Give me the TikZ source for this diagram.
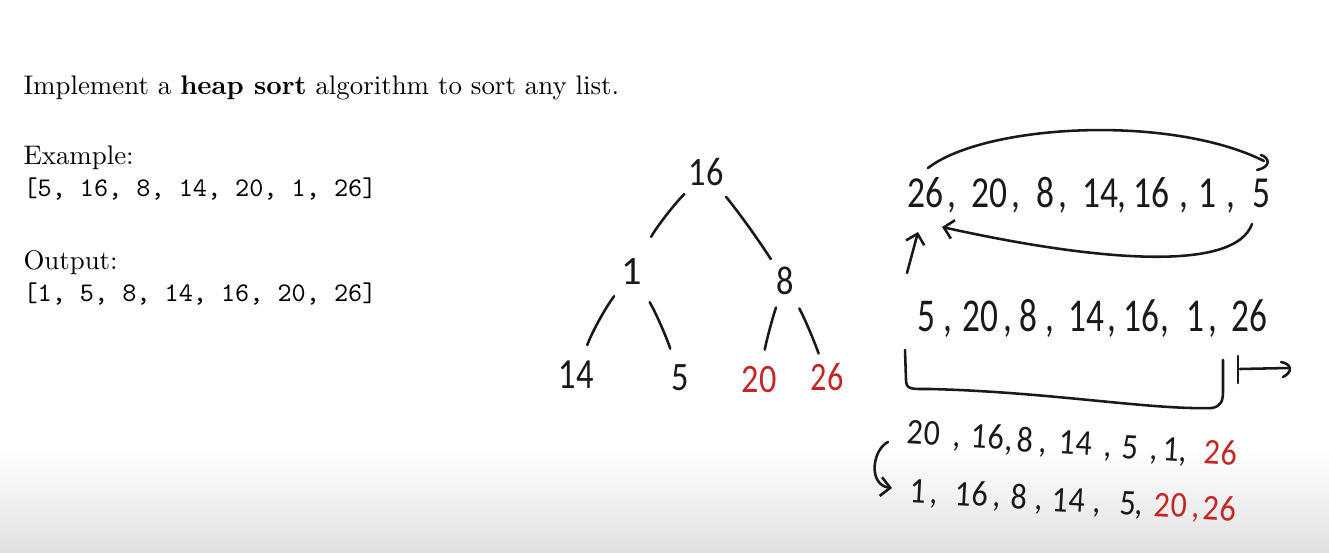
\documentclass[tikz,border=0pt]{standalone}
\usepackage{fontspec}
\newfontfamily\hand{Carlito}
\usetikzlibrary{arrows.meta}
\definecolor{ink}{RGB}{25,25,25}
\definecolor{redink}{RGB}{196,38,38}
\definecolor{fadegray}{RGB}{224,224,224}
\newcommand\narrow[2]{\scalebox{#1}[1]{#2}}
\begin{document}
\begin{tikzpicture}[x=0.372pt,y=-0.372pt,
  txt/.style={anchor=base west,inner sep=0pt},
  hw/.style={inner sep=0pt,font=\hand\fontsize{15}{17}\selectfont,text=ink},
  tok/.style={anchor=base,inner sep=0pt,text=ink},
  stroke/.style={draw=ink,line width=0.95pt,line cap=round,line join=round},
  barb/.style={-{Straight Barb[length=3.5pt,width=7pt]}}
]
\useasboundingbox (0,0) rectangle (1329,553);
\fill[white] (0,0) rectangle (1329,450);
\shade[top color=white,bottom color=fadegray] (0,450) rectangle (1329,553);

% left text
\node[txt] (title) at (23,95) {Implement a \textbf{heap sort} algorithm to sort any list.};
\node[txt] (ex) at (23,165) {Example:};
\node[txt] (exl) at (23,197) {\ttfamily [5, 16, 8, 14, 20, 1, 26]};
\node[txt] (out) at (23,270) {Output:};
\node[txt] (outl) at (23,302) {\ttfamily [1, 5, 8, 14, 16, 20, 26]};

% tree
\node[hw] (t16) at (706,172) {\narrow{0.85}{16}};
\node[hw] (t1) at (632,272) {1};
\node[hw] (t8) at (785,281) {\narrow{0.85}{8}};
\node[hw,font=\hand\fontsize{16}{18}\selectfont] (t14) at (576,375) {\narrow{0.8}{14}};
\node[hw] (t5) at (680,378) {\narrow{0.85}{5}};
\node[hw,text=redink] (t20) at (759,380) {\narrow{0.85}{20}};
\node[hw,text=redink] (t26) at (827,377) {\narrow{0.8}{26}};

\draw[stroke,shorten <=11.5pt,shorten >=14.9pt] (t16.center) to[bend right=8] (t1.center);
\draw[stroke,shorten <=11.9pt,shorten >=9.7pt] (t16.center) to[bend left=3] (t8.center);
\draw[stroke,shorten <=11.2pt,shorten >=11.9pt] (t1.center) to[bend right=8] (t14.center);
\draw[stroke,shorten <=13pt,shorten >=11.5pt] (t1.center) to[bend left=6] (t5.center);
\draw[stroke,shorten <=10.4pt,shorten >=11.5pt] (t8.center) to[bend right=4] (t20.center);
\draw[stroke,shorten <=11.5pt,shorten >=9.3pt] (t8.center) to[bend left=4] (t26.center);

% right rows, one token at a time
\foreach \x/\t [count=\i] in {925/26,952/{,},989/20,1016/{,},1045/8,1063/{,},1100/14,1122/{,},1151/16,1184/{,},1207/1,1231/{,},1261/5}
  \node[tok,font=\hand\fontsize{16.5}{18}\selectfont] (r1-\i) at (\x,208) {\narrow{0.8}{\t}};
\foreach \x/\t [count=\i] in {926/5,948/{,},980/20,1008/{,},1028/8,1050/{,},1086/14,1112/{,},1141/16,1165/{,},1195/1,1213/{,},1249/26}
  \node[tok,font=\hand\fontsize{17.5}{19}\selectfont] (r2-\i) at (\x,332) {\narrow{0.75}{\t}};
\foreach \x/\y/\t [count=\i] in {923/445/20,956/447/{,},987/449/16,1008/451/{,},1025/452/8,1042/453/{,},1075/455/14,1107/457/{,},1130/459/5,1153/460/{,},1171/461/1,1182/462/{,},1220/465/{\textcolor{redink}{26}}}
  \node[tok,font=\hand\fontsize{13.5}{15}\selectfont,rotate=-3.6] (r3-\i) at (\x,\y) {\narrow{0.88}{\t}};
\foreach \x/\y/\t [count=\i] in {918/503/1,933/504/{,},971/506/16,996/507/{,},1019/509/8,1038/510/{,},1068/512/14,1096/513/{,},1128/515/5,1138/515/{,},1170/517/{\textcolor{redink}{20}},1195/518/{\textcolor{redink}{,}},1219/520/{\textcolor{redink}{26}}}
  \node[tok,font=\hand\fontsize{13.5}{15}\selectfont,rotate=-3.2] (r4-\i) at (\x,\y) {\narrow{0.88}{\t}};

% top arc (swap 26 and 5)
\coordinate (a1s) at (928,168);
\coordinate (a1e) at (1264,161);
\draw[stroke] (a1s) .. controls (985,124) and (1170,114) .. (a1e);
\draw[stroke] (1261,155) .. controls (1270,158) and (1271,167) .. (1257,170);

% bottom arc
\coordinate (a2s) at (1252,224);
\coordinate (a2e) at (942,227);
\draw[stroke,barb] (a2s) .. controls (1235,272) and (1100,262) .. (a2e);

% up arrow
\coordinate (u1) at (907,273);
\coordinate (u2) at (918,232);
\draw[stroke,barb] (u1) -- (u2);

% bracket under row 2
\coordinate (b1) at (905,350);
\coordinate (b2) at (1223,360);
\draw[stroke] (b1) -- (906,380) .. controls (906,390) and (912,389) .. (930,389)
  .. controls (1050,392) and (1150,410) .. (1212,408)
  .. controls (1222,406) and (1223,400) .. (1223,390) -- (b2);

% mapsto arrow
\coordinate (m0) at (1238,356);
\coordinate (m1) at (1238,383);
\draw[stroke] (m0) -- (m1);
\coordinate (ms) at (1240,369);
\coordinate (me) at (1289,368);
\draw[stroke] (ms) -- (me);
\draw[stroke] (1281,362) .. controls (1292,364) and (1293,372) .. (1283,377);

% curl arrow
\coordinate (c1) at (888,442);
\coordinate (c2) at (892,488);
\draw[stroke,barb] (c1) .. controls (872,450) and (868,485) .. (c2);
\end{tikzpicture}
\end{document}
